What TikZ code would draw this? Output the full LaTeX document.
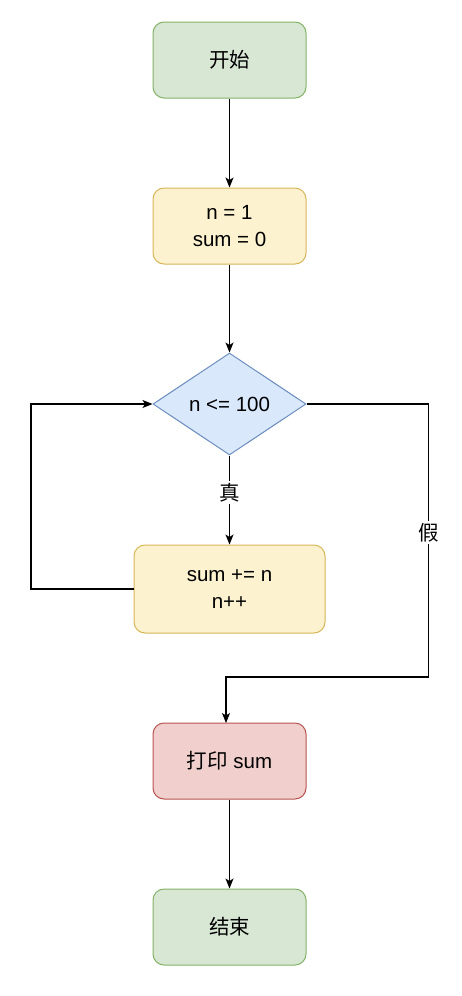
\documentclass[tikz,border=0pt]{standalone}
\usepackage{fontspec}
\setmainfont{Liberation Sans}
\newfontfamily\cjk{Noto Sans CJK SC}
\usetikzlibrary{shapes.geometric,arrows.meta}
\definecolor{gfill}{HTML}{D8E6D4}\definecolor{gline}{HTML}{82B366}
\definecolor{yfill}{HTML}{FCF2CF}\definecolor{yline}{HTML}{D6B656}
\definecolor{bfill}{HTML}{DAE8FC}\definecolor{bline}{HTML}{6C8EBF}
\definecolor{rfill}{HTML}{F0CFCD}\definecolor{rline}{HTML}{B85450}
\begin{document}
\begin{tikzpicture}[x=1pt,y=-1pt,
  every node/.style={font=\fontsize{20.5}{27}\selectfont, align=center, inner sep=0pt},
  boxbase/.style={rectangle, rounded corners=11pt, line width=1pt, minimum width=153pt, minimum height=76pt},
  greenbox/.style={boxbase, fill=gfill, draw=gline},
  yellowbox/.style={boxbase, fill=yfill, draw=yline},
  redbox/.style={boxbase, fill=rfill, draw=rline},
  decide/.style={diamond, aspect=1.5, fill=bfill, draw=bline, line width=1pt, inner sep=0pt},
  conn/.style={line width=1.1pt, -{Stealth[length=10pt,width=8pt,inset=2.5pt]}},
  lbl/.style={fill=white, inner sep=2pt}]
\useasboundingbox (0,0) rectangle (461,996);
\node[greenbox] (start) at (229.5,60) {\cjk 开始};
\node[yellowbox] (init) at (229.5,226) {n = 1\\sum = 0};
\node[decide, minimum width=153pt, minimum height=102pt] (cond) at (229.5,404) {};
\node (condtext) at (229.5,404) {n <= 100};
\node[yellowbox, minimum width=191pt, minimum height=88pt] (body) at (229.5,589) {sum += n\\n++};
\node[redbox] (print) at (229.5,761) {{\cjk 打印} sum};
\node[greenbox] (end) at (229.5,927) {\cjk 结束};
\coordinate (la) at (31,589);
\coordinate (lb) at (31,404);
\coordinate (ra) at (428.5,404);
\coordinate (rb) at (428.5,677);
\coordinate (rc) at (226,677);
\coordinate (rd) at (226,723);
\draw[conn] (start) -- (init);
\draw[conn] (init) -- (cond.north);
\draw[conn] (cond.south) -- node[lbl, pos=0.42] {\cjk 真} (body);
\draw[conn] (body.west) -- (la) -- (lb) -- (cond.west);
\draw[conn] (cond.east) -- (ra) -- node[lbl, pos=0.47] {\cjk 假} (rb) -- (rc) -- (rd);
\draw[conn] (print) -- (end);
\end{tikzpicture}
\end{document}
